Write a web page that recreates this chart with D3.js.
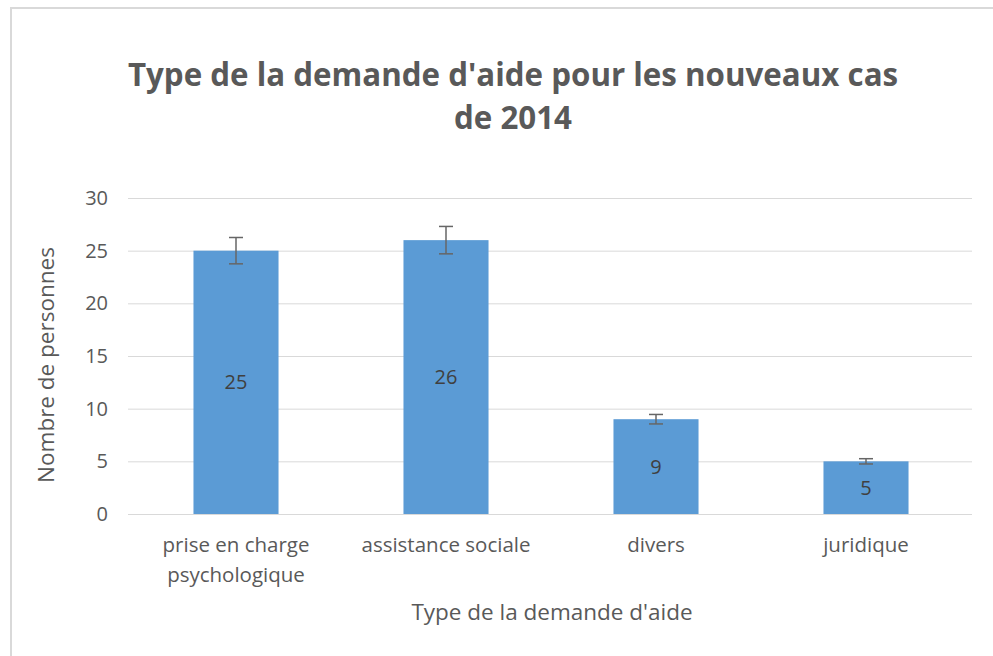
<html lang="fr">
<head>
<script src="https://d3js.org/d3.v7.min.js" charset="utf-8"></script>
<style>
  body { margin: 0; background: #fff; }
  text { font-family: 'Open Sans', 'Noto Sans', sans-serif; }
</style>
</head>
<body>
<script>
// chart data
var categories = ["prise en charge psychologique", "assistance sociale", "divers", "juridique"]
var labelLines = [["prise en charge", "psychologique"], ["assistance sociale"], ["divers"], ["juridique"]]
var values = [25, 26, 9, 5]
var errors = [1.25, 1.3, 0.45, 0.25]
var yTicks = [0, 5, 10, 15, 20, 25, 30]
var titleLines = ["Type de la demande d'aide pour les nouveaux cas", "de 2014"]

var width = 993
var height = 656

var svg = d3.select("body")
            .append("svg")
            .attr("width", width)
            .attr("height", height)

// outer frame (only top and left visible)
svg.append("rect")
   .attr("x", 11).attr("y", 8)
   .attr("width", 1000).attr("height", 700)
   .attr("fill", "#fff")
   .attr("stroke", "#d9d9d9")
   .attr("stroke-width", 2)

var x = d3.scaleBand()
    .domain(categories)
    .range([131, 971])
    .paddingInner(0.595)
    .paddingOuter(0.2975)

var y = d3.scaleLinear()
    .domain([0, 30])
    .range([514, 198])

// gridlines
svg.selectAll(".grid")
   .data(yTicks)
   .enter().append("line")
   .attr("x1", 128).attr("x2", 972)
   .attr("y1", function(d) { return y(d) + 0.5 })
   .attr("y2", function(d) { return y(d) + 0.5 })
   .attr("stroke", "#d9d9d9")
   .attr("stroke-width", 1)

// y tick labels
svg.selectAll(".ytick")
   .data(yTicks)
   .enter().append("text")
   .attr("x", 108)
   .attr("y", function(d) { return y(d) })
   .attr("dy", "0.35em")
   .attr("text-anchor", "end")
   .attr("font-size", "20px")
   .attr("fill", "#595959")
   .text(function(d) { return d })

// bars
svg.selectAll(".bar")
   .data(values)
   .enter().append("rect")
   .attr("x", function(d, i) { return x(categories[i]) })
   .attr("y", function(d) { return y(d) })
   .attr("width", x.bandwidth())
   .attr("height", function(d) { return y(0) - y(d) })
   .attr("fill", "#5b9bd5")

// error bars
var eb = svg.selectAll(".err")
   .data(values)
   .enter().append("g")
   .attr("stroke", "#666")
   .attr("stroke-width", 1.5)

eb.append("line")
  .attr("x1", function(d, i) { return x(categories[i]) + x.bandwidth() / 2 })
  .attr("x2", function(d, i) { return x(categories[i]) + x.bandwidth() / 2 })
  .attr("y1", function(d, i) { return y(d + errors[i]) })
  .attr("y2", function(d, i) { return y(d - errors[i]) })

eb.selectAll("line.cap")
  .data(function(d, i) { return [{v: d + errors[i], i: i}, {v: d - errors[i], i: i}] })
  .enter().append("line")
  .attr("class", "cap")
  .attr("x1", function(d) { return x(categories[d.i]) + x.bandwidth() / 2 - 7 })
  .attr("x2", function(d) { return x(categories[d.i]) + x.bandwidth() / 2 + 7 })
  .attr("y1", function(d) { return y(d.v) })
  .attr("y2", function(d) { return y(d.v) })

// value labels
svg.selectAll(".val")
   .data(values)
   .enter().append("text")
   .attr("x", function(d, i) { return x(categories[i]) + x.bandwidth() / 2 })
   .attr("y", function(d) { return (y(d) + y(0)) / 2 })
   .attr("dy", "0.35em")
   .attr("text-anchor", "middle")
   .attr("font-size", "20px")
   .attr("fill", "#404040")
   .text(function(d) { return d })

// category labels
svg.selectAll(".cat")
   .data(labelLines)
   .enter().append("text")
   .attr("x", function(d, i) { return x(categories[i]) + x.bandwidth() / 2 })
   .attr("y", 545)
   .attr("text-anchor", "middle")
   .attr("font-size", "20.5px")
   .attr("fill", "#595959")
   .each(function(d) {
     var t = d3.select(this)
     d.forEach(function(line, j) {
       t.append("tspan")
        .attr("x", t.attr("x"))
        .attr("y", 545 + j * 30)
        .attr("dy", "0.35em")
        .text(line)
     })
   })

// axis titles
svg.append("text")
   .attr("x", 552).attr("y", 612)
   .attr("dy", "0.35em")
   .attr("text-anchor", "middle")
   .attr("font-size", "22.5px")
   .attr("fill", "#595959")
   .text("Type de la demande d'aide")

svg.append("text")
   .attr("transform", "translate(46,365) rotate(-90)")
   .attr("dy", "0.35em")
   .attr("text-anchor", "middle")
   .attr("font-size", "22.5px")
   .attr("fill", "#595959")
   .text("Nombre de personnes")

// chart title
svg.selectAll(".title")
   .data(titleLines)
   .enter().append("text")
   .attr("x", 513)
   .attr("y", function(d, i) { return 75 + i * 43 })
   .attr("dy", "0.35em")
   .attr("text-anchor", "middle")
   .attr("font-size", "31.3px")
   .attr("font-weight", "bold")
   .attr("fill", "#595959")
   .text(function(d) { return d })
</script>
</body>
</html>
